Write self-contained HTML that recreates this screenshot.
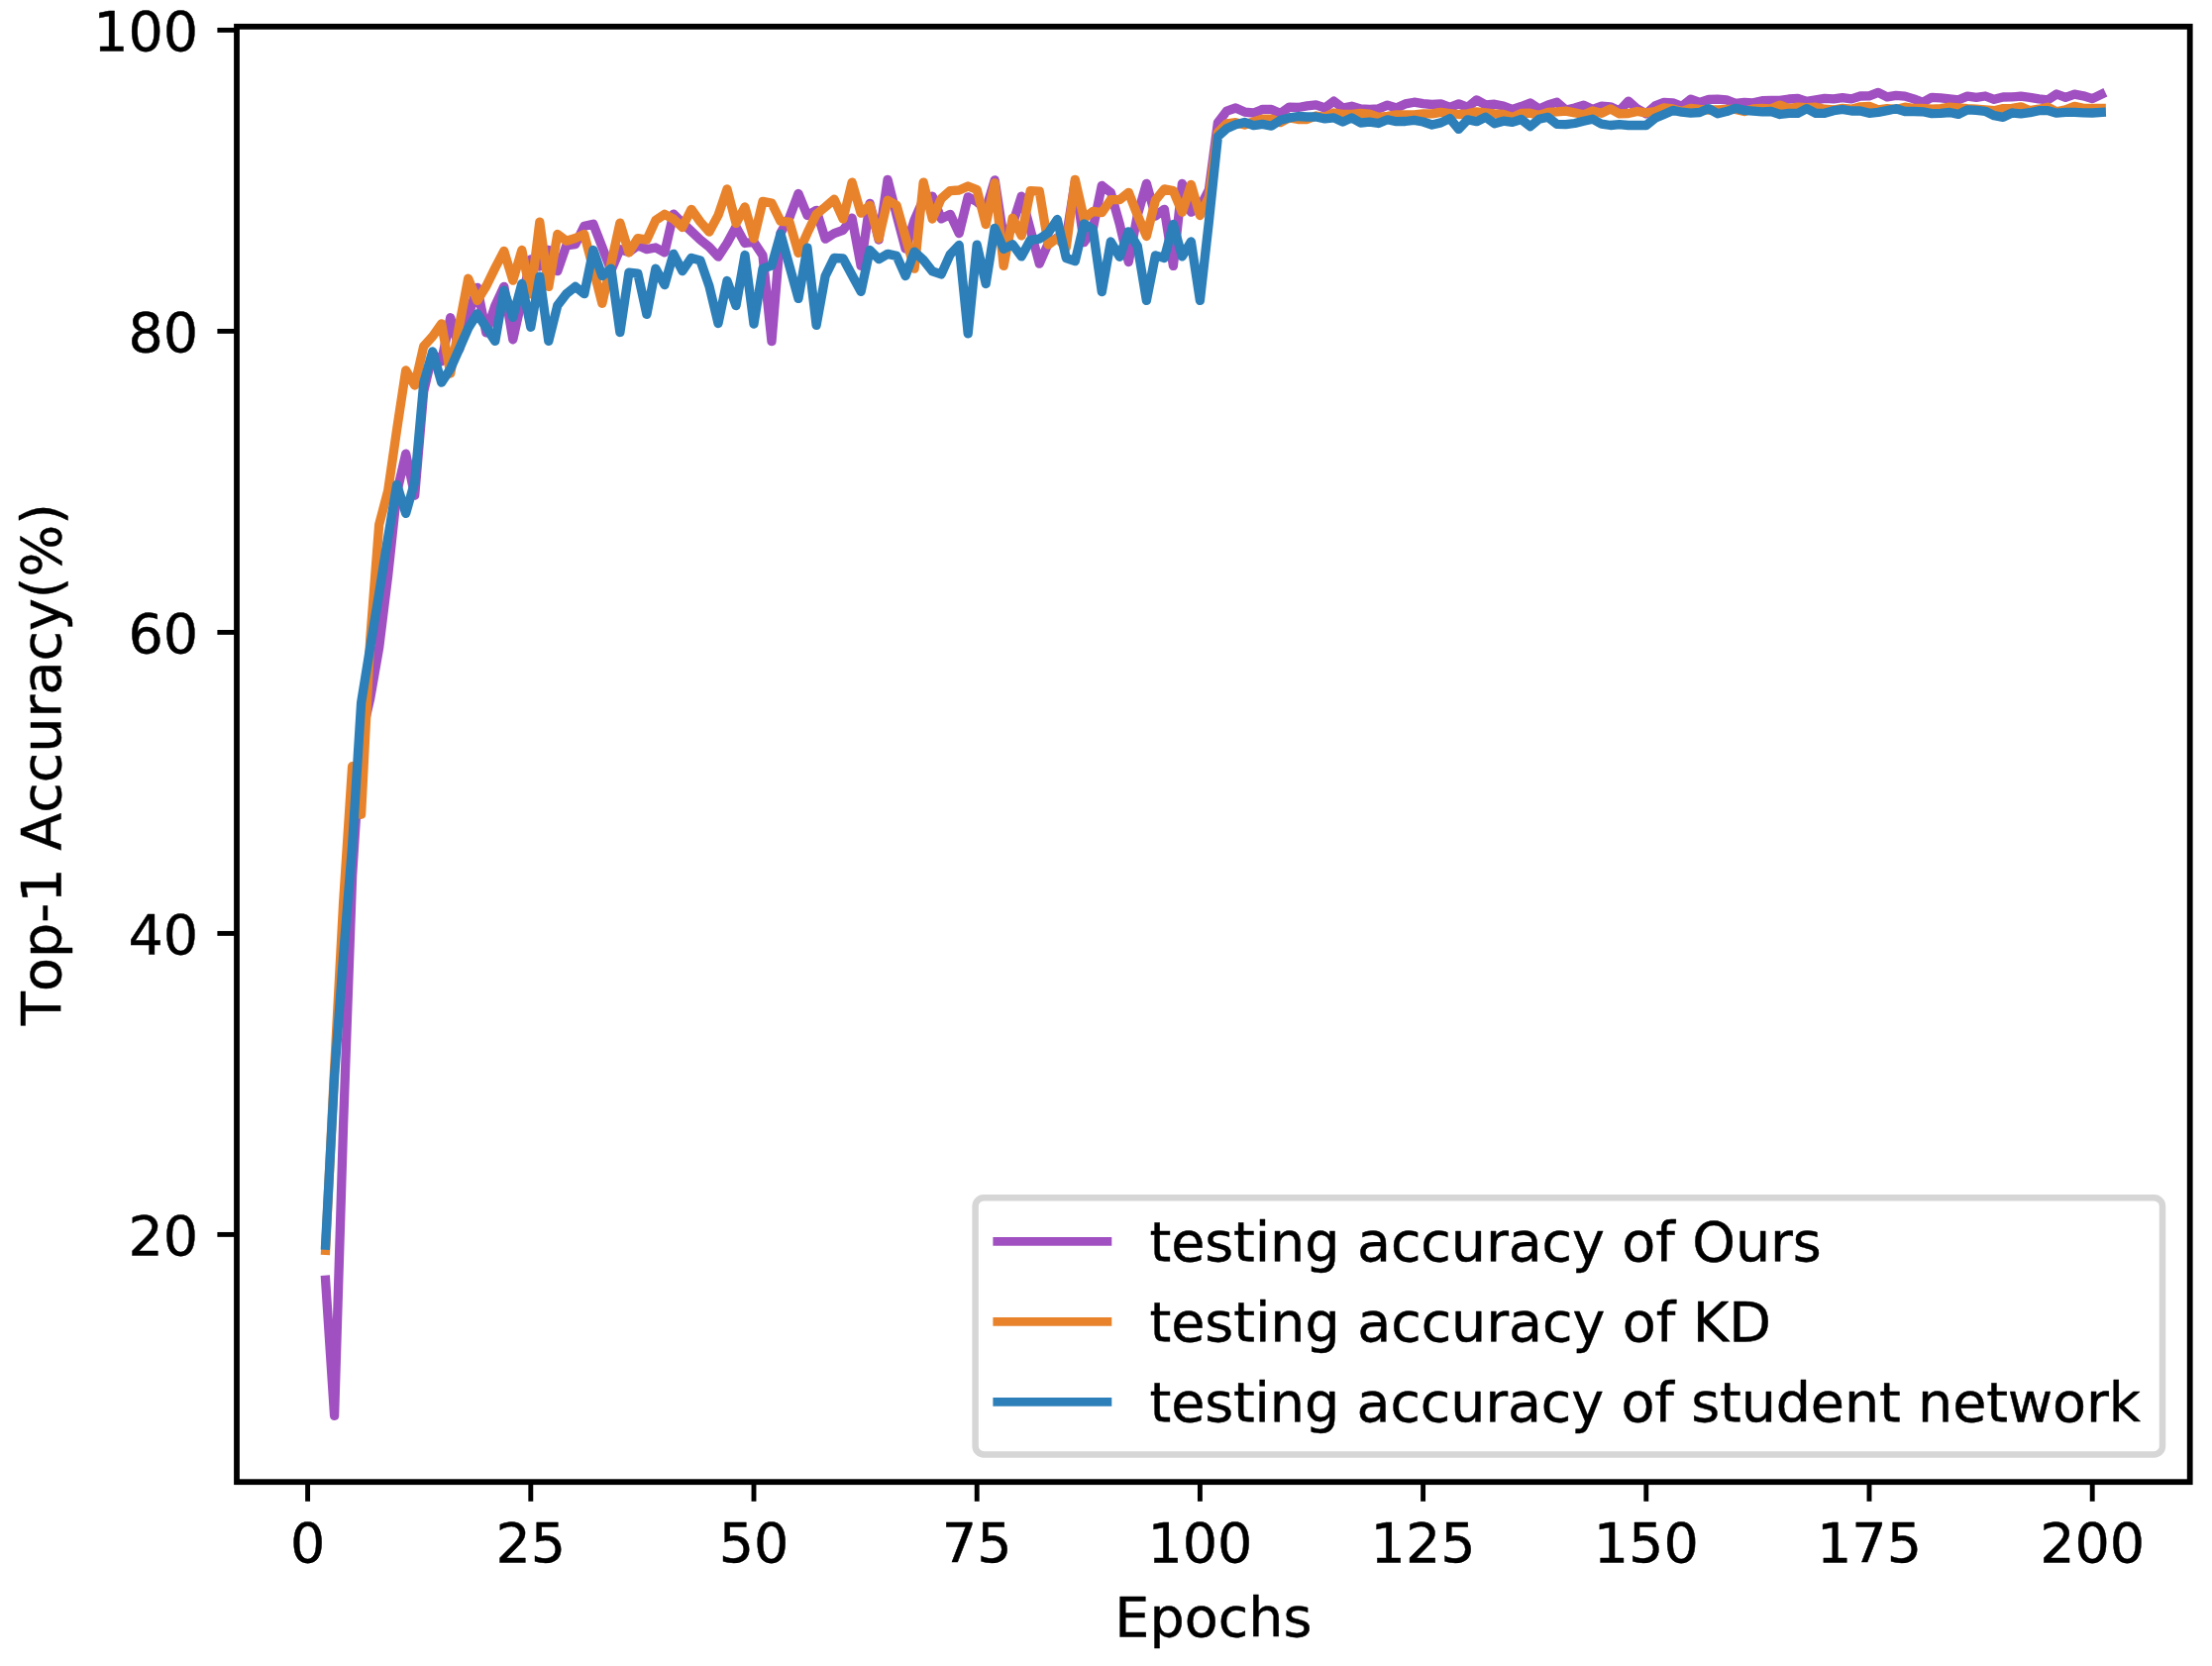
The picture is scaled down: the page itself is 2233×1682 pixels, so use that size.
<!DOCTYPE html>
<html lang="en"><head><meta charset="utf-8"><title>Top-1 Accuracy vs Epochs</title>
<style>html,body{margin:0;padding:0;background:#fff;}body{width:2233px;height:1682px;overflow:hidden;}svg{display:block;}text{font-family:"DejaVu Sans","Liberation Sans",sans-serif;font-size:55.56px;fill:#000;font-kerning:none;font-variant-ligatures:none;stroke:#000;stroke-width:0.45px;stroke-linejoin:round;}</style>
</head><body>
<svg width="2233" height="1682" viewBox="0 0 2233 1682">
<rect x="0" y="0" width="2233" height="1682" fill="#ffffff"/>
<g fill="none" stroke-width="9.30" stroke-linejoin="round" stroke-linecap="square">
<polyline stroke="#a050c0" points="328.6,1292.3 337.6,1429.4 346.6,1135.4 355.6,884.6 364.6,744.8 373.7,705.3 382.7,653.6 391.7,580.6 400.7,497.0 409.7,458.1 418.7,500.1 427.7,395.2 436.7,357.2 445.7,364.8 454.7,320.7 463.7,352.6 472.7,319.2 481.8,290.3 490.8,335.9 499.8,308.6 508.8,289.3 517.8,342.8 526.8,302.5 535.8,262.0 544.8,269.0 553.8,252.3 562.8,273.6 571.8,247.8 580.8,246.7 589.8,228.2 598.9,226.2 607.9,249.4 616.9,273.1 625.9,251.7 634.9,254.6 643.9,247.8 652.9,251.6 661.9,250.0 670.9,254.9 679.9,216.1 688.9,225.0 697.9,233.5 707.0,242.1 716.0,249.3 725.0,259.2 734.0,245.5 743.0,229.1 752.0,245.5 761.0,244.4 770.0,257.9 779.0,344.7 788.0,235.3 797.0,219.5 806.0,195.5 815.0,217.5 824.1,212.3 833.1,241.2 842.1,235.6 851.1,232.3 860.1,220.2 869.1,268.4 878.1,205.4 887.1,242.1 896.1,181.3 905.1,217.2 914.1,251.1 923.1,222.2 932.2,201.4 941.2,198.2 950.2,220.9 959.2,216.3 968.2,235.6 977.2,198.8 986.2,203.7 995.2,211.6 1004.2,181.8 1013.2,239.9 1022.2,226.5 1031.2,198.2 1040.2,232.0 1049.3,266.2 1058.3,245.5 1067.3,239.9 1076.3,240.2 1085.3,183.3 1094.3,244.7 1103.3,230.7 1112.3,187.3 1121.3,194.3 1130.3,226.3 1139.3,264.5 1148.3,217.2 1157.4,185.3 1166.4,218.1 1175.4,211.3 1184.4,268.4 1193.4,185.3 1202.4,214.2 1211.4,209.3 1220.4,191.5 1229.4,123.9 1238.4,112.2 1247.4,109.0 1256.4,113.1 1265.4,114.0 1274.5,110.4 1283.5,110.4 1292.5,114.5 1301.5,108.1 1310.5,108.5 1319.5,106.9 1328.5,105.9 1337.5,109.0 1346.5,102.1 1355.5,109.0 1364.5,107.2 1373.5,109.9 1382.6,110.4 1391.6,109.9 1400.6,106.1 1409.6,109.0 1418.6,104.9 1427.6,103.2 1436.6,104.7 1445.6,105.5 1454.6,104.9 1463.6,108.4 1472.6,104.9 1481.6,108.4 1490.6,100.9 1499.7,105.9 1508.7,105.2 1517.7,107.0 1526.7,110.4 1535.7,107.5 1544.7,104.0 1553.7,109.9 1562.7,105.9 1571.7,103.2 1580.7,111.0 1589.7,109.0 1598.7,106.1 1607.8,110.4 1616.8,107.2 1625.8,107.8 1634.8,111.9 1643.8,102.1 1652.8,109.9 1661.8,114.8 1670.8,106.9 1679.8,103.4 1688.8,103.8 1697.8,107.3 1706.8,100.2 1715.8,103.4 1724.9,100.3 1733.9,100.2 1742.9,100.9 1751.9,104.4 1760.9,103.4 1769.9,103.8 1778.9,101.7 1787.9,101.4 1796.9,101.4 1805.9,100.0 1814.9,99.3 1823.9,102.3 1833.0,100.8 1842.0,99.3 1851.0,99.9 1860.0,98.6 1869.0,99.9 1878.0,97.0 1887.0,96.8 1896.0,93.3 1905.0,97.9 1914.0,96.4 1923.0,97.1 1932.0,99.9 1941.0,103.4 1950.1,98.3 1959.1,98.8 1968.1,99.9 1977.1,100.8 1986.1,97.1 1995.1,98.3 2004.1,97.0 2013.1,100.3 2022.1,98.0 2031.1,97.9 2040.1,97.1 2049.1,98.3 2058.2,99.9 2067.2,100.8 2076.2,95.0 2085.2,98.3 2094.2,95.2 2103.2,96.8 2112.2,99.6 2121.2,95.3"/>
<polyline stroke="#e8832c" points="328.6,1262.4 337.6,1079.2 346.6,912.0 355.6,773.7 364.6,822.3 373.7,646.0 382.7,529.7 391.7,495.5 400.7,433.2 409.7,373.9 418.7,389.1 427.7,349.6 436.7,339.7 445.7,326.8 454.7,377.0 463.7,328.3 472.7,281.2 481.8,303.5 490.8,289.0 499.8,270.6 508.8,253.4 517.8,283.2 526.8,252.5 535.8,296.9 544.8,224.2 553.8,289.4 562.8,236.5 571.8,243.2 580.8,240.5 589.8,236.5 598.9,271.3 607.9,306.3 616.9,266.0 625.9,225.1 634.9,254.9 643.9,240.6 652.9,242.1 661.9,222.4 670.9,216.3 679.9,221.2 688.9,229.5 697.9,211.3 707.0,224.0 716.0,234.1 725.0,217.4 734.0,190.9 743.0,225.4 752.0,209.0 761.0,240.8 770.0,203.4 779.0,205.0 788.0,223.4 797.0,224.2 806.0,255.4 815.0,235.3 824.1,216.3 833.1,209.0 842.1,201.2 851.1,221.0 860.1,184.1 869.1,215.2 878.1,207.3 887.1,240.8 896.1,202.2 905.1,207.3 914.1,239.2 923.1,271.2 932.2,184.1 941.2,221.0 950.2,200.5 959.2,192.6 968.2,192.0 977.2,188.0 986.2,191.5 995.2,226.6 1004.2,184.7 1013.2,268.4 1022.2,220.2 1031.2,237.9 1040.2,192.6 1049.3,193.2 1058.3,247.0 1067.3,240.2 1076.3,250.0 1085.3,181.3 1094.3,220.6 1103.3,213.4 1112.3,214.6 1121.3,201.6 1130.3,201.6 1139.3,194.3 1148.3,217.2 1157.4,238.5 1166.4,202.2 1175.4,190.9 1184.4,192.6 1193.4,214.2 1202.4,186.4 1211.4,217.5 1220.4,199.1 1229.4,133.8 1238.4,124.8 1247.4,123.7 1256.4,126.0 1265.4,123.0 1274.5,120.2 1283.5,120.2 1292.5,123.7 1301.5,118.9 1310.5,120.5 1319.5,120.5 1328.5,117.0 1337.5,118.0 1346.5,114.0 1355.5,115.4 1364.5,115.4 1373.5,114.5 1382.6,115.2 1391.6,118.3 1400.6,117.3 1409.6,115.8 1418.6,115.8 1427.6,115.8 1436.6,114.9 1445.6,114.9 1454.6,113.4 1463.6,114.5 1472.6,115.5 1481.6,114.9 1490.6,112.9 1499.7,113.8 1508.7,114.9 1517.7,115.4 1526.7,118.4 1535.7,114.5 1544.7,114.2 1553.7,116.4 1562.7,113.4 1571.7,112.9 1580.7,112.2 1589.7,113.8 1598.7,115.8 1607.8,111.9 1616.8,114.3 1625.8,109.9 1634.8,114.8 1643.8,114.5 1652.8,112.5 1661.8,113.8 1670.8,112.5 1679.8,108.8 1688.8,109.9 1697.8,112.5 1706.8,109.3 1715.8,110.4 1724.9,111.0 1733.9,110.8 1742.9,110.4 1751.9,110.4 1760.9,112.5 1769.9,109.9 1778.9,109.3 1787.9,109.9 1796.9,106.1 1805.9,109.7 1814.9,108.2 1823.9,108.7 1833.0,108.2 1842.0,110.2 1851.0,111.0 1860.0,109.3 1869.0,110.2 1878.0,107.8 1887.0,107.3 1896.0,110.8 1905.0,109.7 1914.0,110.4 1923.0,108.2 1932.0,109.3 1941.0,109.3 1950.1,110.2 1959.1,109.7 1968.1,108.2 1977.1,108.8 1986.1,109.7 1995.1,110.2 2004.1,110.8 2013.1,111.7 2022.1,109.6 2031.1,109.3 2040.1,107.9 2049.1,111.7 2058.2,110.2 2067.2,108.2 2076.2,112.8 2085.2,110.8 2094.2,107.3 2103.2,109.3 2112.2,109.3 2121.2,109.3"/>
<polyline stroke="#2c7fb8" points="328.6,1257.0 337.6,1086.8 346.6,965.2 355.6,854.2 364.6,709.8 373.7,653.6 382.7,598.9 391.7,542.6 400.7,489.4 409.7,518.3 418.7,486.4 427.7,386.8 436.7,354.9 445.7,386.1 454.7,372.4 463.7,352.0 472.7,331.4 481.8,316.9 490.8,330.6 499.8,344.4 508.8,293.2 517.8,320.4 526.8,286.4 535.8,330.3 544.8,279.1 553.8,344.4 562.8,308.3 571.8,296.6 580.8,289.3 589.8,296.7 598.9,252.5 607.9,278.6 616.9,271.2 625.9,335.5 634.9,275.1 643.9,276.2 652.9,317.4 661.9,271.2 670.9,287.6 679.9,256.3 688.9,273.6 697.9,260.4 707.0,263.0 716.0,289.0 725.0,326.5 734.0,283.5 743.0,308.6 752.0,257.5 761.0,327.1 770.0,271.2 779.0,268.1 788.0,236.1 797.0,268.7 806.0,301.4 815.0,250.2 824.1,328.3 833.1,278.8 842.1,260.4 851.1,261.0 860.1,277.7 869.1,294.4 878.1,252.5 887.1,261.6 896.1,256.4 905.1,258.4 914.1,278.6 923.1,254.1 932.2,262.5 941.2,273.8 950.2,276.9 959.2,256.9 968.2,247.5 977.2,336.8 986.2,247.2 995.2,286.5 1004.2,230.3 1013.2,251.4 1022.2,246.8 1031.2,258.9 1040.2,242.3 1049.3,241.2 1058.3,235.0 1067.3,221.5 1076.3,260.5 1085.3,263.7 1094.3,225.9 1103.3,231.5 1112.3,294.6 1121.3,244.0 1130.3,259.3 1139.3,233.8 1148.3,248.5 1157.4,303.4 1166.4,257.9 1175.4,260.5 1184.4,226.5 1193.4,258.9 1202.4,244.0 1211.4,303.4 1220.4,223.4 1229.4,137.9 1238.4,129.7 1247.4,125.7 1256.4,123.4 1265.4,126.6 1274.5,125.4 1283.5,127.2 1292.5,121.3 1301.5,118.9 1310.5,117.5 1319.5,118.0 1328.5,118.0 1337.5,119.9 1346.5,118.9 1355.5,123.1 1364.5,118.9 1373.5,124.0 1382.6,123.1 1391.6,124.5 1400.6,120.8 1409.6,122.7 1418.6,122.5 1427.6,121.4 1436.6,123.0 1445.6,126.0 1454.6,123.9 1463.6,119.6 1472.6,130.4 1481.6,120.8 1490.6,122.7 1499.7,118.3 1508.7,124.8 1517.7,122.2 1526.7,123.4 1535.7,120.5 1544.7,127.7 1553.7,120.2 1562.7,118.3 1571.7,125.4 1580.7,125.7 1589.7,124.5 1598.7,122.2 1607.8,120.2 1616.8,125.2 1625.8,126.5 1634.8,125.6 1643.8,126.5 1652.8,126.5 1661.8,126.5 1670.8,119.3 1679.8,115.4 1688.8,111.4 1697.8,113.2 1706.8,114.2 1715.8,113.5 1724.9,109.6 1733.9,114.8 1742.9,112.6 1751.9,109.3 1760.9,111.4 1769.9,112.2 1778.9,112.8 1787.9,112.5 1796.9,115.5 1805.9,114.3 1814.9,114.3 1823.9,109.6 1833.0,114.3 1842.0,114.3 1851.0,111.7 1860.0,110.5 1869.0,112.0 1878.0,112.0 1887.0,114.3 1896.0,113.4 1905.0,111.6 1914.0,109.7 1923.0,112.5 1932.0,112.5 1941.0,112.8 1950.1,114.6 1959.1,114.3 1968.1,113.5 1977.1,115.4 1986.1,110.8 1995.1,111.4 2004.1,112.3 2013.1,116.7 2022.1,118.3 2031.1,114.0 2040.1,114.8 2049.1,113.7 2058.2,111.7 2067.2,111.6 2076.2,114.2 2085.2,113.4 2094.2,113.4 2103.2,113.8 2112.2,114.0 2121.2,113.4"/>
</g>
<g stroke="#000" stroke-width="4.9" fill="none">
<line x1="310.6" y1="1496.2" x2="310.6" y2="1515.8"/>
<line x1="535.8" y1="1496.2" x2="535.8" y2="1515.8"/>
<line x1="761.0" y1="1496.2" x2="761.0" y2="1515.8"/>
<line x1="986.2" y1="1496.2" x2="986.2" y2="1515.8"/>
<line x1="1211.4" y1="1496.2" x2="1211.4" y2="1515.8"/>
<line x1="1436.6" y1="1496.2" x2="1436.6" y2="1515.8"/>
<line x1="1661.8" y1="1496.2" x2="1661.8" y2="1515.8"/>
<line x1="1887.0" y1="1496.2" x2="1887.0" y2="1515.8"/>
<line x1="2112.2" y1="1496.2" x2="2112.2" y2="1515.8"/>
<line x1="219.4" y1="1246.4" x2="239.0" y2="1246.4"/>
<line x1="219.4" y1="942.4" x2="239.0" y2="942.4"/>
<line x1="219.4" y1="638.4" x2="239.0" y2="638.4"/>
<line x1="219.4" y1="334.4" x2="239.0" y2="334.4"/>
<line x1="219.4" y1="30.4" x2="239.0" y2="30.4"/>
</g>
<rect x="239.00" y="26.85" width="1971.70" height="1469.35" fill="none" stroke="#000" stroke-width="5.8" stroke-linejoin="miter"/>
<g text-anchor="middle">
<text x="310.6" y="1577.1">0</text>
<text x="535.8" y="1577.1">25</text>
<text x="761.0" y="1577.1">50</text>
<text x="986.2" y="1577.1">75</text>
<text x="1211.4" y="1577.1">100</text>
<text x="1436.6" y="1577.1">125</text>
<text x="1661.8" y="1577.1">150</text>
<text x="1887.0" y="1577.1">175</text>
<text x="2112.2" y="1577.1">200</text>
</g>
<g text-anchor="end">
<text x="200.2" y="1267.1">20</text>
<text x="200.2" y="963.1">40</text>
<text x="200.2" y="659.1">60</text>
<text x="200.2" y="355.1">80</text>
<text x="200.2" y="51.1">100</text>
</g>
<text x="1224.85" y="1651.9" text-anchor="middle">Epochs</text>
<text transform="translate(61.0,771.5) rotate(-90)" text-anchor="middle">Top-1 Accuracy(%)</text>
<rect x="984.6" y="1209.2" width="1198.4" height="259.2" rx="8.5" ry="8.5" fill="#ffffff" fill-opacity="0.8" stroke="#d6d6d6" stroke-width="6.5"/>
<line x1="1006.8" y1="1253.4" x2="1117.9" y2="1253.4" stroke="#a050c0" stroke-width="8.8" stroke-linecap="square"/>
<text x="1160.5" y="1272.6" textLength="678.2" lengthAdjust="spacing">testing accuracy of Ours</text>
<line x1="1006.8" y1="1334.4" x2="1117.9" y2="1334.4" stroke="#e8832c" stroke-width="8.8" stroke-linecap="square"/>
<text x="1160.5" y="1353.6" textLength="627.5" lengthAdjust="spacing">testing accuracy of KD</text>
<line x1="1006.8" y1="1415.4" x2="1117.9" y2="1415.4" stroke="#2c7fb8" stroke-width="8.8" stroke-linecap="square"/>
<text x="1160.5" y="1434.6" textLength="1000.3" lengthAdjust="spacing">testing accuracy of student network</text>
</svg>
</body></html>
